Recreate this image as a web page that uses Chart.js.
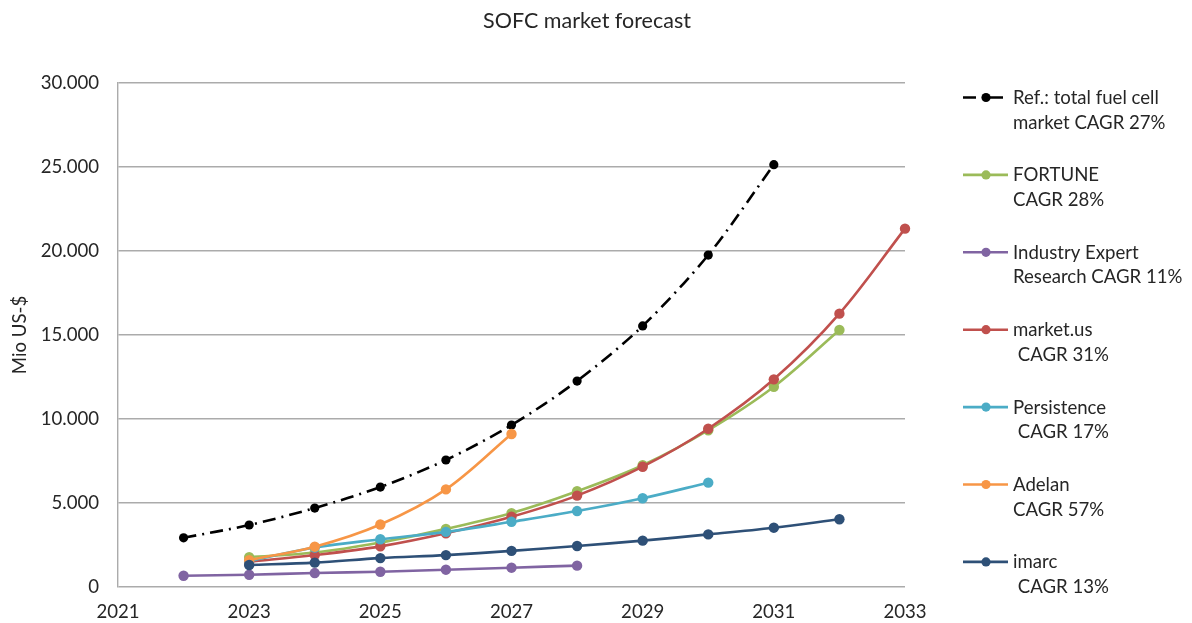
<!DOCTYPE html>
<html>
<head>
<meta charset="utf-8">
<title>SOFC market forecast</title>
<script src="https://cdn.jsdelivr.net/npm/chart.js@4/dist/chart.umd.min.js"></script>
<style>
  html, body { margin: 0; padding: 0; background: #ffffff; }
  #wrap { width: 1192px; height: 623px; }
</style>
</head>
<body>
<div id="wrap"><canvas id="chart" width="1192" height="623"></canvas></div>
<script>
// ---- data (Mio US-$ per year) ----
const chartTitle = 'SOFC market forecast';
const yAxisTitle = 'Mio US-$';
const xTicks = [2021, 2023, 2025, 2027, 2029, 2031, 2033];
const yTicks = [0, 5000, 10000, 15000, 20000, 25000, 30000];

const refYears = [2022, 2023, 2024, 2025, 2026, 2027, 2028, 2029, 2030, 2031];
const refValues = [2930, 3690, 4700, 5950, 7560, 9640, 12260, 15540, 19760, 25140];

const fortuneYears = [2023, 2024, 2025, 2026, 2027, 2028, 2029, 2030, 2031, 2032];
const fortuneValues = [1780, 2050, 2650, 3460, 4400, 5700, 7250, 9330, 11920, 15300];

const industryYears = [2022, 2023, 2024, 2025, 2026, 2027, 2028];
const industryValues = [670, 730, 830, 910, 1030, 1150, 1270];

const marketUsYears = [2023, 2024, 2025, 2026, 2027, 2028, 2029, 2030, 2031, 2032, 2033];
const marketUsValues = [1500, 1900, 2420, 3200, 4180, 5440, 7160, 9420, 12360, 16270, 21330];

const persistenceYears = [2023, 2024, 2025, 2026, 2027, 2028, 2029, 2030];
const persistenceValues = [1550, 2350, 2840, 3280, 3880, 4520, 5280, 6210];

const adelanYears = [2023, 2024, 2025, 2026, 2027];
const adelanValues = [1600, 2400, 3720, 5810, 9110];

const imarcYears = [2023, 2024, 2025, 2026, 2027, 2028, 2029, 2030, 2031, 2032];
const imarcValues = [1310, 1450, 1720, 1900, 2150, 2440, 2760, 3130, 3530, 4030];

const seriesLabels = [
  ['Ref.: total fuel cell', 'market CAGR 27%'],
  ['FORTUNE', 'CAGR 28%'],
  ['Industry Expert', 'Research CAGR 11%'],
  ['market.us', ' CAGR 31%'],
  ['Persistence', ' CAGR 17%'],
  ['Adelan', 'CAGR 57%'],
  ['imarc', ' CAGR 13%']
];

// ---- styling ----
const FONT = 'Lato';
const TEXT = '#262626';
const GRID = '#ABABAB';
const colors = ['#000000', '#9BBB59', '#8064A2', '#C0504D', '#4BACC6', '#F79646', '#2E5077'];
const refDash = [13, 6, 2, 6];

const toPoints = (xs, ys) => xs.map((x, i) => ({ x: x, y: ys[i] }));
const seriesData = [
  toPoints(refYears, refValues),
  toPoints(fortuneYears, fortuneValues),
  toPoints(industryYears, industryValues),
  toPoints(marketUsYears, marketUsValues),
  toPoints(persistenceYears, persistenceValues),
  toPoints(adelanYears, adelanValues),
  toPoints(imarcYears, imarcValues)
];

const datasets = seriesData.map((pts, i) => ({
  label: seriesLabels[i].join(' ').replace(/\s+/g, ' '),
  data: pts,
  borderColor: colors[i],
  backgroundColor: colors[i],
  pointBackgroundColor: colors[i],
  pointBorderColor: colors[i],
  pointBorderWidth: 0,
  pointRadius: i === 0 ? 4.6 : 5.2,
  borderWidth: 2.6,
  borderDash: i === 0 ? refDash : [],
  tension: i === 0 ? 0.3 : 0.35,
  clip: false,
  fill: false,
  // later series are painted over earlier ones
  order: seriesData.length - 1 - i
}));

const fmtThousands = v => String(v).replace(/\B(?=(\d{3})+(?!\d))/g, '.');

// title and the two-line legend on the right
const overlay = {
  id: 'overlay',
  afterDraw(chart) {
    const ctx = chart.ctx;
    ctx.save();
    ctx.fillStyle = TEXT;
    ctx.textBaseline = 'alphabetic';
    ctx.textAlign = 'center';
    ctx.font = '21.5px ' + FONT;
    ctx.fillText(chartTitle, 587, 28);

    ctx.textAlign = 'left';
    ctx.font = '18.6px ' + FONT;
    const x0 = 963, x1 = 1008, xm = 986, xt = 1013;
    chart.data.datasets.forEach((ds, i) => {
      const base = 104 + i * 77.4;
      const ly = base - 6.5;
      ctx.save();
      ctx.strokeStyle = ds.borderColor;
      ctx.lineWidth = ds.borderWidth;
      ctx.setLineDash(ds.borderDash || []);
      ctx.beginPath();
      ctx.moveTo(x0, ly);
      ctx.lineTo(x1, ly);
      ctx.stroke();
      ctx.setLineDash([]);
      ctx.fillStyle = ds.pointBackgroundColor;
      ctx.beginPath();
      ctx.arc(xm, ly, 4.6, 0, Math.PI * 2);
      ctx.fill();
      ctx.restore();
      const lines = seriesLabels[i];
      ctx.fillText(lines[0], xt, base);
      ctx.fillText(lines[1], xt, base + 24.5);
    });
    ctx.restore();
  }
};

Chart.defaults.font.family = FONT;
Chart.defaults.color = TEXT;

new Chart(document.getElementById('chart'), {
  type: 'line',
  data: { datasets: datasets },
  plugins: [overlay],
  options: {
    responsive: false,
    animation: false,
    events: [],
    layout: { padding: { top: 83, right: 287, bottom: 0, left: 0 } },
    plugins: {
      legend: { display: false },
      title: { display: false },
      tooltip: { enabled: false }
    },
    scales: {
      x: {
        type: 'linear',
        min: xTicks[0],
        max: xTicks[xTicks.length - 1],
        afterBuildTicks: s => { s.ticks = xTicks.map(v => ({ value: v })); },
        afterFit: s => { s.height = 36; },
        grid: { display: false, drawTicks: false },
        border: { display: false },
        ticks: {
          padding: 14,
          maxRotation: 0,
          font: { size: 18.6 },
          color: TEXT,
          callback: v => String(v)
        }
      },
      y: {
        min: yTicks[0],
        max: yTicks[yTicks.length - 1],
        afterBuildTicks: s => { s.ticks = yTicks.map(v => ({ value: v })); },
        afterFit: s => { s.width = 118; },
        grid: { color: GRID, lineWidth: 1.4, drawTicks: false },
        border: { display: true, color: GRID, width: 1.4 },
        ticks: {
          padding: 19,
          font: { size: 18.6 },
          color: TEXT,
          callback: v => fmtThousands(v)
        },
        title: {
          display: true,
          text: yAxisTitle,
          font: { size: 18.6 },
          color: TEXT,
          padding: { top: 9, bottom: 0 }
        }
      }
    }
  }
});
</script>
</body>
</html>
